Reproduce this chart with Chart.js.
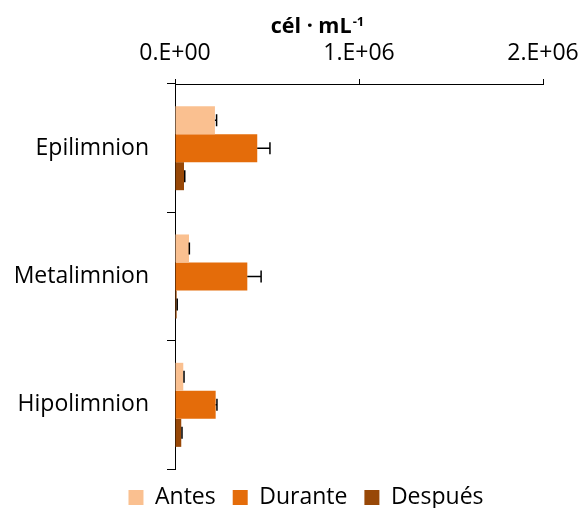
<!DOCTYPE html>
<html lang="es">
<head>
  <meta charset="UTF-8" />
  <title>cél · mL-1</title>
  <script src="https://cdn.jsdelivr.net/npm/chart.js"></script>
  <style>
    html, body { margin: 0; padding: 0; background: #fff; }
    .chart-container { width: 582px; height: 508px; }
  </style>
</head>
<body>
  <div class="chart-container">
    <canvas id="cellChart"></canvas>
  </div>

  <script>
    // data
    const categories = ['Epilimnion', 'Metalimnion', 'Hipolimnion'];
    const seriesNames = ['Antes', 'Durante', 'Después'];
    const antes = [217000, 76000, 45000];
    const antesErr = [9000, 2000, 4000];
    const durante = [447000, 393000, 221000];
    const duranteErr = [69000, 75000, 7000];
    const despues = [49000, 9000, 34000];
    const despuesErr = [4000, 3000, 4000];
    const xTickLabels = ['0.E+00', '1.E+06', '2.E+06'];

    const FONT = "'Open Sans', sans-serif";

    // one-sided error bars with a cap, drawn from the x scale
    const errorBars = {
      id: 'errorBars',
      afterDatasetsDraw(chart) {
        const ctx = chart.ctx;
        const xScale = chart.scales.x;
        ctx.save();
        ctx.strokeStyle = '#000';
        ctx.lineWidth = 1.5;
        chart.data.datasets.forEach((ds, i) => {
          const meta = chart.getDatasetMeta(i);
          meta.data.forEach((bar, j) => {
            const xEnd = xScale.getPixelForValue(ds.data[j] + ds.errors[j]);
            ctx.beginPath();
            ctx.moveTo(bar.x, bar.y);
            ctx.lineTo(xEnd, bar.y);
            ctx.moveTo(xEnd, bar.y - 6);
            ctx.lineTo(xEnd, bar.y + 6);
            ctx.stroke();
          });
        });
        ctx.restore();
      }
    };

    // axis title with a real superscript
    const axisTitle = {
      id: 'axisTitle',
      afterDraw(chart) {
        const ctx = chart.ctx;
        ctx.save();
        ctx.fillStyle = '#000';
        ctx.textBaseline = 'alphabetic';
        const main = 'cél · mL';
        const sup = '-1';
        ctx.font = "bold 21.5px " + FONT;
        const w = ctx.measureText(main).width;
        ctx.font = "bold 13px " + FONT;
        const ws = ctx.measureText(sup).width;
        const x0 = 317 - (w + ws) / 2;
        ctx.font = "bold 21.5px " + FONT;
        ctx.fillText(main, x0, 33);
        ctx.font = "bold 13px " + FONT;
        ctx.fillText(sup, x0 + w + 1, 26);
        ctx.restore();
      }
    };

    // legend sits a little right of the canvas centre, as in the original
    const legendShift = {
      id: 'legendShift',
      afterLayout(chart) {
        chart.legend.left += 30;
      }
    };

    const ctx = document.getElementById('cellChart').getContext('2d');
    const cellChart = new Chart(ctx, {
      type: 'bar',
      data: {
        labels: categories,
        datasets: [
          { label: seriesNames[0], data: antes, errors: antesErr, backgroundColor: '#FAC090' },
          { label: seriesNames[1], data: durante, errors: duranteErr, backgroundColor: '#E46C0A' },
          { label: seriesNames[2], data: despues, errors: despuesErr, backgroundColor: '#984807' }
        ]
      },
      options: {
        indexAxis: 'y',
        responsive: true,
        maintainAspectRatio: false,
        animation: false,
        datasets: {
          bar: { categoryPercentage: 0.655, barPercentage: 1.0, borderWidth: 0 }
        },
        layout: { padding: { left: 0, right: 0, top: 0, bottom: -11 } },
        plugins: {
          tooltip: { enabled: false },
          legend: {
            position: 'bottom',
            labels: {
              color: '#000',
              font: { family: FONT, size: 23 },
              boxWidth: 15,
              boxHeight: 15,
              padding: 17
            }
          }
        },
        scales: {
          x: {
            position: 'top',
            min: 0,
            max: 2000000,
            afterFit(scale) {
              scale.height = 84;
              scale.paddingLeft = 0;
              scale.paddingRight = 39;
            },
            afterBuildTicks(scale) {
              scale.ticks = xTickLabels.map((t, i) => ({ value: i * 1000000 }));
            },
            ticks: {
              color: '#000',
              font: { family: FONT, size: 23 },
              padding: 12,
              maxRotation: 0,
              callback: (v, i) => xTickLabels[i]
            },
            grid: { drawOnChartArea: false, color: '#000', tickLength: 5 },
            border: { color: '#000', width: 1 }
          },
          y: {
            afterFit(scale) { scale.width = 175; },
            ticks: {
              color: '#000',
              font: { family: FONT, size: 23 },
              padding: 18
            },
            grid: { drawOnChartArea: false, offset: true, color: '#000', tickLength: 8 },
            border: { color: '#000', width: 1 }
          }
        }
      },
      plugins: [errorBars, axisTitle, legendShift]
    });
  </script>
</body>
</html>
